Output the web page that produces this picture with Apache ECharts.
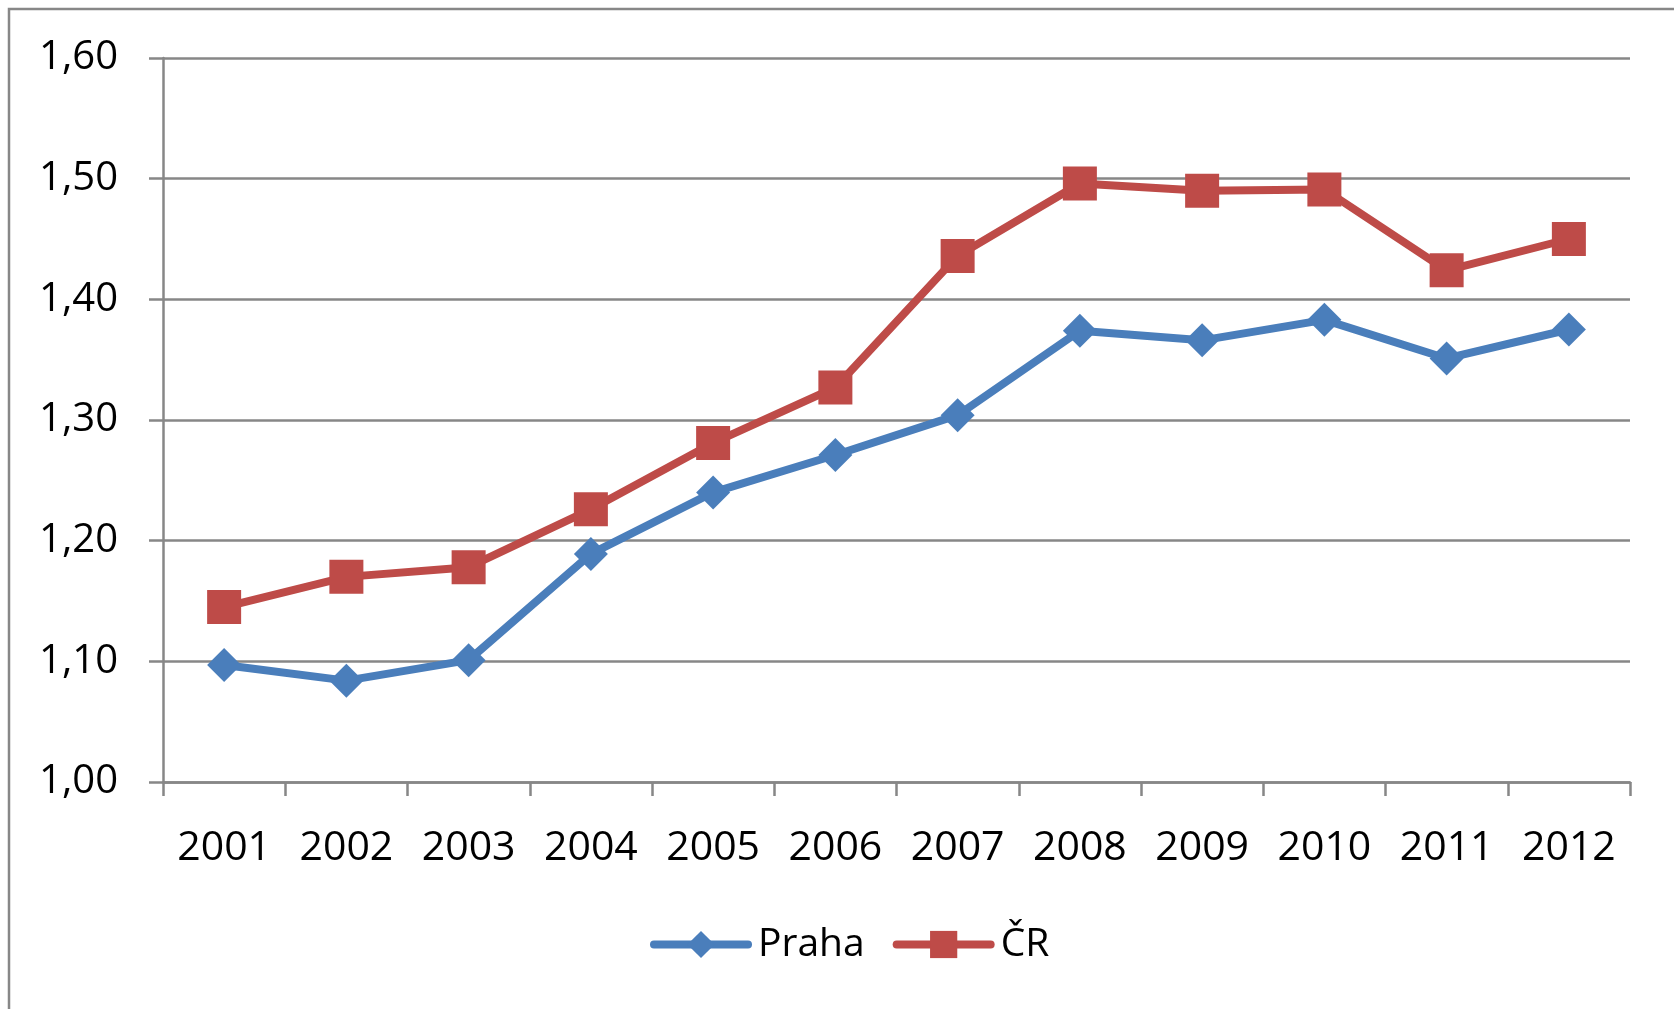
<!DOCTYPE html>
<html lang="cs">
<head>
<meta charset="utf-8">
<script src="https://cdn.jsdelivr.net/npm/echarts@6/dist/echarts.min.js"></script>
<title>Praha / ČR</title>
<style>
  html, body { margin: 0; padding: 0; background: #fff; }
  #main { width: 1674px; height: 1009px; }
</style>
</head>
<body>
<div id="main"></div>
<script>
// roky
var years = ['2001', '2002', '2003', '2004', '2005', '2006', '2007', '2008', '2009', '2010', '2011', '2012'];
// hodnoty
var praha = [1.097, 1.084, 1.101, 1.189, 1.240, 1.271, 1.304, 1.374, 1.366, 1.383, 1.351, 1.375];
var cr = [1.145, 1.170, 1.178, 1.226, 1.281, 1.327, 1.436, 1.496, 1.490, 1.491, 1.424, 1.450];

var font = 'Open Sans';
var gray = '#878787';

var myChart = echarts.init(document.getElementById('main'));

var option = {
    animation: false,
    textStyle: { fontFamily: font },
    // rámeček kolem celého grafu
    graphic: [{
        type: 'rect',
        shape: { x: 9, y: 9, width: 1720, height: 1060 },
        style: { fill: 'none', stroke: gray, lineWidth: 2.5 }
    }],
    grid: { left: 163, right: 44, top: 58, bottom: 227 },
    legend: {
        left: 645,
        top: 920,
        itemWidth: 94,
        itemHeight: 34,
        itemGap: 28,
        lineStyle: { width: 8, cap: 'round' },
        textStyle: { fontFamily: font, fontSize: 39, color: '#000', padding: [0, 0, 0, 5] },
        data: ['Praha', 'ČR']
    },
    xAxis: {
        type: 'category',
        data: years,
        boundaryGap: true,
        axisLine: { lineStyle: { color: gray, width: 2.5 } },
        axisTick: { show: true, length: 14, alignWithLabel: false, lineStyle: { color: gray, width: 2.5 } },
        axisLabel: { fontFamily: font, fontSize: 41, color: '#000', margin: 46, interval: 0 }
    },
    yAxis: {
        type: 'value',
        min: 1.0,
        max: 1.6,
        interval: 0.1,
        axisLine: { show: true, lineStyle: { color: gray, width: 2.5 } },
        axisTick: { show: true, length: 14, lineStyle: { color: gray, width: 2.5 } },
        splitLine: { show: true, lineStyle: { color: gray, width: 2.5 } },
        axisLabel: {
            fontFamily: font, fontSize: 40, color: '#000', margin: 45,
            formatter: function (v) { return v.toFixed(2).replace('.', ','); }
        }
    },
    series: [
        {
            name: 'Praha',
            type: 'line',
            data: praha,
            symbol: 'diamond',
            symbolSize: 34,
            lineStyle: { color: '#4A7EBB', width: 8 },
            itemStyle: { color: '#4A7EBB' }
        },
        {
            name: 'ČR',
            type: 'line',
            data: cr,
            symbol: 'rect',
            symbolSize: 34,
            lineStyle: { color: '#BE4B48', width: 8 },
            itemStyle: { color: '#BE4B48' }
        }
    ]
};
myChart.setOption(option);
</script>
</body>
</html>
